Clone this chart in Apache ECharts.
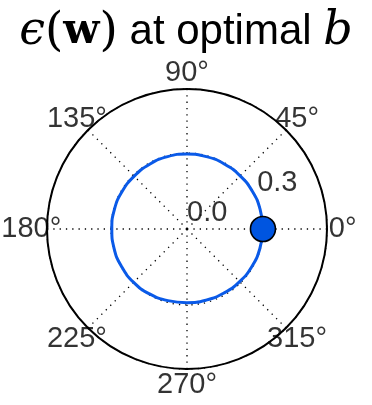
<!DOCTYPE html>
<html><head><meta charset="utf-8">
<script src="https://cdn.jsdelivr.net/npm/echarts@6/dist/echarts.min.js"></script>
<style>html,body{margin:0;padding:0;background:#fff}#c{width:372px;height:405px}</style>
</head><body><div id="c"></div>
<script>
// Data
const curveAngles = [0,15,30,45,60,75,90,105,120,135,150,165,180,195,210,225,240,255,270,285,300,315,330,345,360];
const curveRadius = [0.300,0.299,0.298,0.297,0.296,0.296,0.296,0.296,0.295,0.295,0.296,0.297,0.297,0.298,0.298,0.298,0.296,0.293,0.291,0.291,0.292,0.294,0.296,0.298,0.300];
const markerAngle = [0];
const markerRadius = [0.3];
const angleTicks = [0,45,90,135,180,225,270,315];
const angleTickLabels = ['0°','45°','90°','135°','180°','225°','270°','315°'];
const radiusTicks = [0.0, 0.3];
const radiusTickLabels = ['0.0','0.3'];
const radiusMax = 0.553;
const labelRadius = 0.615;
const radialLabelAngle = 22.5;

const chart = echarts.init(document.getElementById('c'), null, {renderer:'canvas'});
const dotted = {color:'#000', width:1.3, type:[1.3,5]};
const option = {
  animation:false,
  backgroundColor:'#fff',
  title:{
    text:'{e|ϵ}{p|(}{w|w}{p|)}{s| at optimal }{b|b}',
    left:'center', top:4,
    textStyle:{
      fontWeight:'normal',
      rich:{
        e:{fontFamily:'DejaVu Serif', fontStyle:'italic', fontWeight:'normal', fontSize:46, color:'#000'},
        p:{fontFamily:'DejaVu Serif', fontWeight:'normal', fontSize:47, color:'#000'},
        w:{fontFamily:'DejaVu Serif', fontWeight:'bold', fontSize:42, color:'#000'},
        s:{fontFamily:'Liberation Sans', fontWeight:'normal', fontSize:42, color:'#000'},
        b:{fontFamily:'DejaVu Serif', fontStyle:'italic', fontWeight:'normal', fontSize:46, color:'#000'}
      }
    }
  },
  polar:{center:[187,229], radius:140},
  angleAxis:{
    type:'value', min:0, max:360, interval:45, startAngle:0, clockwise:false,
    axisLine:{show:true, lineStyle:{color:'#000', width:2}},
    axisTick:{show:false}, axisLabel:{show:false},
    splitLine:{show:true, lineStyle:dotted}
  },
  radiusAxis:{
    type:'value', min:0, max:radiusMax, interval:0.3,
    axisLine:{show:false}, axisTick:{show:false}, axisLabel:{show:false},
    splitLine:{show:true, lineStyle:dotted}
  },
  series:[
    {
      type:'line', coordinateSystem:'polar', showSymbol:false, smooth:true,
      data:curveAngles.map((a,i)=>[curveRadius[i], a]),
      lineStyle:{color:'#0a5ae8', width:3}, z:3
    },
    {
      type:'scatter', coordinateSystem:'polar', symbolSize:25,
      data:markerAngle.map((a,i)=>[markerRadius[i], a]),
      itemStyle:{color:'#0055e0', borderColor:'#000', borderWidth:1.6, opacity:1}, z:4
    },
    {
      type:'scatter', coordinateSystem:'polar', symbolSize:0, silent:true, clip:false,
      data:angleTicks.map((a,i)=>({value:[labelRadius, a], name:angleTickLabels[i]})),
      label:{show:true, position:'inside', formatter:p=>p.name, fontFamily:'Liberation Sans', fontSize:29, color:'#000', textBorderWidth:0, align:'center', verticalAlign:'middle'},
      z:5
    },
    {
      type:'scatter', coordinateSystem:'polar', symbolSize:0, silent:true, clip:false,
      data:radiusTicks.map((r,i)=>({value:[r, radialLabelAngle], name:radiusTickLabels[i]})),
      label:{show:true, position:[0,-2], formatter:p=>p.name, fontFamily:'Liberation Sans', fontSize:29, color:'#000', textBorderWidth:0, align:'left', verticalAlign:'bottom'},
      z:5
    }
  ]
};
chart.setOption(option);
</script></body></html>
